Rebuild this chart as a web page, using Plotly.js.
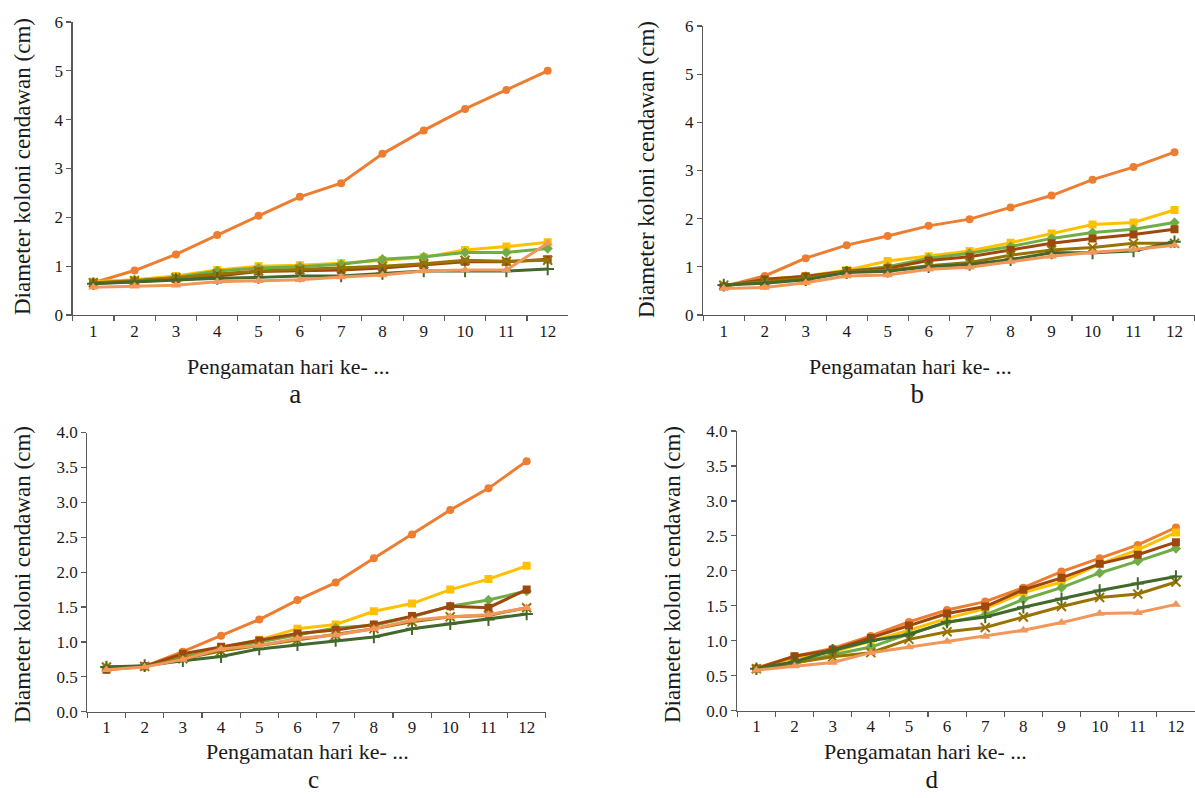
<!DOCTYPE html>
<html><head><meta charset="utf-8">
<script src="https://cdn.plot.ly/plotly-3.0.1.min.js"></script>
<style>html,body{margin:0;padding:0;background:#fff}#chart{width:1195px;height:798px}</style>
</head><body><div id="chart"></div>
<script>
const days = ["1","2","3","4","5","6","7","8","9","10","11","12"];

const a_s1 = [0.66, 0.91, 1.24, 1.64, 2.03, 2.42, 2.70, 3.30, 3.78, 4.22, 4.61, 5.00];
const a_s2 = [0.68, 0.72, 0.80, 0.92, 1.00, 1.02, 1.06, 1.12, 1.18, 1.33, 1.40, 1.49];
const a_s3 = [0.65, 0.70, 0.77, 0.90, 0.96, 0.99, 1.04, 1.14, 1.19, 1.28, 1.28, 1.36];
const a_s4 = [0.65, 0.68, 0.73, 0.80, 0.89, 0.91, 0.92, 0.96, 1.02, 1.09, 1.09, 1.14];
const a_s5 = [0.66, 0.70, 0.76, 0.84, 0.90, 0.93, 0.96, 1.00, 1.05, 1.12, 1.10, 1.12];
const a_s6 = [0.64, 0.68, 0.72, 0.75, 0.77, 0.80, 0.80, 0.85, 0.90, 0.90, 0.90, 0.94];
const a_s7 = [0.57, 0.59, 0.61, 0.68, 0.70, 0.72, 0.78, 0.82, 0.90, 0.92, 0.92, 1.47];

const b_s1 = [0.59, 0.81, 1.18, 1.45, 1.64, 1.85, 1.99, 2.23, 2.48, 2.81, 3.07, 3.38];
const b_s2 = [0.59, 0.74, 0.81, 0.93, 1.12, 1.22, 1.33, 1.50, 1.69, 1.88, 1.92, 2.18];
const b_s3 = [0.60, 0.73, 0.80, 0.91, 1.00, 1.18, 1.28, 1.42, 1.59, 1.71, 1.78, 1.92];
const b_s4 = [0.60, 0.74, 0.80, 0.91, 0.97, 1.13, 1.21, 1.35, 1.49, 1.59, 1.67, 1.78];
const b_s5 = [0.62, 0.69, 0.76, 0.90, 0.93, 1.02, 1.09, 1.24, 1.35, 1.40, 1.49, 1.49];
const b_s6 = [0.62, 0.66, 0.73, 0.88, 0.91, 1.00, 1.05, 1.15, 1.29, 1.29, 1.33, 1.52];
const b_s7 = [0.55, 0.57, 0.67, 0.81, 0.83, 0.95, 0.99, 1.11, 1.22, 1.30, 1.36, 1.45];

const c_s1 = [0.60, 0.65, 0.86, 1.09, 1.32, 1.60, 1.85, 2.20, 2.54, 2.89, 3.20, 3.59];
const c_s2 = [0.62, 0.65, 0.79, 0.91, 1.03, 1.19, 1.25, 1.44, 1.55, 1.75, 1.90, 2.09];
const c_s3 = [0.63, 0.65, 0.78, 0.90, 1.00, 1.10, 1.20, 1.24, 1.36, 1.51, 1.60, 1.73];
const c_s4 = [0.60, 0.65, 0.83, 0.93, 1.02, 1.12, 1.17, 1.25, 1.37, 1.51, 1.49, 1.75];
const c_s5 = [0.64, 0.65, 0.76, 0.87, 0.95, 1.03, 1.10, 1.19, 1.29, 1.36, 1.38, 1.49];
const c_s6 = [0.64, 0.66, 0.73, 0.79, 0.90, 0.96, 1.02, 1.07, 1.19, 1.26, 1.32, 1.40];
const c_s7 = [0.60, 0.64, 0.75, 0.90, 0.95, 1.05, 1.10, 1.19, 1.31, 1.36, 1.39, 1.49];

const d_s1 = [0.61, 0.78, 0.89, 1.07, 1.27, 1.44, 1.56, 1.76, 1.99, 2.18, 2.37, 2.62];
const d_s2 = [0.60, 0.76, 0.84, 0.99, 1.15, 1.32, 1.46, 1.69, 1.84, 2.10, 2.30, 2.55];
const d_s3 = [0.60, 0.68, 0.80, 0.91, 1.10, 1.26, 1.37, 1.59, 1.76, 1.97, 2.14, 2.32];
const d_s4 = [0.60, 0.78, 0.87, 1.04, 1.22, 1.39, 1.49, 1.73, 1.90, 2.10, 2.23, 2.41];
const d_s5 = [0.60, 0.68, 0.77, 0.83, 1.02, 1.13, 1.19, 1.34, 1.49, 1.62, 1.67, 1.84];
const d_s6 = [0.60, 0.70, 0.86, 1.00, 1.09, 1.27, 1.34, 1.48, 1.60, 1.72, 1.82, 1.92];
const d_s7 = [0.58, 0.64, 0.69, 0.83, 0.91, 0.99, 1.06, 1.15, 1.26, 1.39, 1.40, 1.52];

const panelLetters = ["a", "b", "c", "d"];
const xTitle = "Pengamatan hari ke- ...";
const yTitle = "Diameter koloni cendawan (cm)";

const seriesStyles = [
  {color: "#ED7D31", symbol: "circle", size: 8},
  {color: "#FFC000", symbol: "square", size: 8},
  {color: "#70AD47", symbol: "diamond", size: 8},
  {color: "#9E480E", symbol: "square", size: 8},
  {color: "#997300", symbol: "x-thin-open", size: 9},
  {color: "#43682B", symbol: "cross-thin-open", size: 9},
  {color: "#F1975A", symbol: "triangle-up", size: 9}
];

const panels = [
  {data: [a_s1,a_s2,a_s3,a_s4,a_s5,a_s6,a_s7], xa: "x", ya: "y"},
  {data: [b_s1,b_s2,b_s3,b_s4,b_s5,b_s6,b_s7], xa: "x2", ya: "y2"},
  {data: [c_s1,c_s2,c_s3,c_s4,c_s5,c_s6,c_s7], xa: "x3", ya: "y3"},
  {data: [d_s1,d_s2,d_s3,d_s4,d_s5,d_s6,d_s7], xa: "x4", ya: "y4"}
];

const traces = [];
panels.forEach(p => {
  p.data.forEach((vals, i) => {
    const st = seriesStyles[i];
    const thin = st.symbol.indexOf("thin") >= 0;
    traces.push({
      x: days, y: vals, xaxis: p.xa, yaxis: p.ya,
      type: "scatter", mode: "lines+markers", showlegend: false,
      line: {color: st.color, width: 3},
      marker: {symbol: st.symbol, size: st.size, color: st.color,
               line: {color: st.color, width: thin ? 2 : 0}},
      hoverinfo: "x+y"
    });
  });
});

const FAM = "Liberation Serif, Times New Roman, Times, serif";
const TXT = "#1a1a1a";
const axisCol = "#595959";

function xax(domain, anchor) {
  return {domain: domain, anchor: anchor, type: "category", range: [-0.5, 11.5],
    tickson: "boundaries", ticks: "outside", ticklen: 5, tickwidth: 1.2, tickcolor: axisCol,
    showline: true, linecolor: axisCol, linewidth: 1.3, showgrid: false, zeroline: false,
    tickfont: {size: 17, family: FAM, color: TXT}, fixedrange: true};
}
function xin(domain, anchor, overl) {
  return {domain: domain, anchor: anchor, overlaying: overl, type: "linear", range: [-0.5, 11.5],
    tickmode: "linear", tick0: -0.5, dtick: 1, ticks: "inside", ticklen: 5, tickwidth: 1.2,
    tickcolor: axisCol, showticklabels: false, showline: false, showgrid: false, zeroline: false};
}
function yax(domain, anchor, rng, dtick, fmt) {
  return {domain: domain, anchor: anchor, range: rng, tickmode: "linear", tick0: 0, dtick: dtick,
    tickformat: fmt, ticks: "outside", ticklen: 5, tickwidth: 1.2, tickcolor: axisCol,
    showline: true, linecolor: axisCol, linewidth: 1.3, showgrid: false, zeroline: false,
    tickfont: {size: 17, family: FAM, color: TXT}, fixedrange: true};
}

const W = 1195, H = 798;
const px = v => v / W, py = v => 1 - v / H;

function ann(text, x, y, size, angle, yanchor) {
  return {text: text, x: px(x), y: py(y), xref: "paper", yref: "paper", showarrow: false,
    xanchor: "center", yanchor: yanchor || "middle", textangle: angle || 0, align: "center",
    borderpad: 0, font: {family: FAM, size: size, color: TXT}};
}
function xTitleWithLetter(letter, letterSize) {
  return xTitle + "<br><span style='font-size:" + letterSize + "px'>\u00a0\u00a0" + letter + "</span>";
}

const layout = {
  width: W, height: H, margin: {l: 0, r: 0, t: 0, b: 0},
  paper_bgcolor: "#ffffff", plot_bgcolor: "#ffffff", font: {family: FAM, color: TXT, size: 17},
  xaxis: xax([0.0608, 0.4756], "y"),
  yaxis: yax([0.6053, 0.9724], "x", [0, 6], 1, "d"),
  xaxis2: xax([0.5885, 1.0], "y2"),
  yaxis2: yax([0.6053, 0.9674], "x2", [0, 6], 1, "d"),
  xaxis3: xax([0.0731, 0.4567], "y3"),
  yaxis3: yax([0.1081, 0.4580], "x3", [0, 4], 0.5, ".1f"),
  xaxis4: xax([0.6170, 1.0], "y4"),
  yaxis4: yax([0.1094, 0.4599], "x4", [0, 4], 0.5, ".1f"),
  xaxis5: xin([0.0608, 0.4756], "y", "x"),
  xaxis6: xin([0.5885, 1.0], "y2", "x2"),
  xaxis7: xin([0.0731, 0.4567], "y3", "x3"),
  xaxis8: xin([0.6170, 1.0], "y4", "x4"),
  annotations: [
    ann(yTitle, 22, 167, 23, -90),
    ann(yTitle, 647, 170, 23, -90),
    ann(yTitle, 22, 575, 23, -90),
    ann(yTitle, 672, 575, 23, -90),
    ann(xTitleWithLetter(panelLetters[0], 27), 288, 353, 22, 0, "top"),
    ann(xTitleWithLetter(panelLetters[1], 27), 910, 353, 22, 0, "top"),
    ann(xTitleWithLetter(panelLetters[2], 25), 307.5, 738, 22, 0, "top"),
    ann(xTitleWithLetter(panelLetters[3], 25), 925, 738, 22, 0, "top")
  ]
};

Plotly.newPlot("chart", traces, layout, {staticPlot: true, displayModeBar: false});
</script>
</body></html>
